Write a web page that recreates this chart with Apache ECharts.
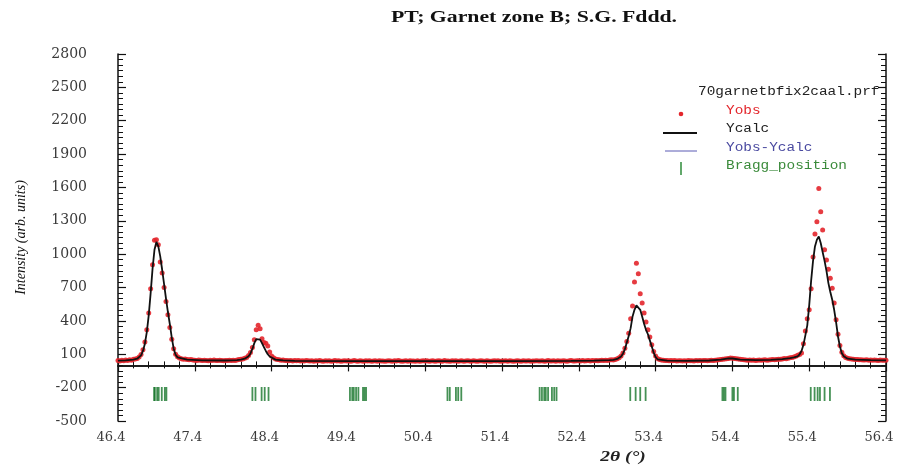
<!DOCTYPE html>
<html>
<head>
<meta charset="utf-8">
<script src="https://cdn.jsdelivr.net/npm/echarts@6/dist/echarts.min.js"></script>
<style>html,body{margin:0;padding:0;background:#fff}#c{width:899px;height:466px}</style>
</head>
<body>
<div id="c"></div>
<script>
// ---- data ----
const xTicks = [46.4, 47.4, 48.4, 49.4, 50.4, 51.4, 52.4, 53.4, 54.4, 55.4, 56.4];
const yTicks = [-500, -200, 100, 400, 700, 1000, 1300, 1600, 1900, 2200, 2500, 2800];

// observed intensities on the measurement grid (start 46.4, step 0.025 deg)
const obsStart = 46.4;
const obsStep = 0.025;
const obsIntensity = [
  44,40,46,42,48,45,50,47,55,58,62,75,98,140,210,320,470,690,905,1125,
  1130,1085,930,830,700,575,455,340,235,150,100,78,66,60,55,58,52,50,53,48,
  47,44,49,46,43,47,45,42,46,44,48,45,43,46,44,41,45,43,47,44,
  46,44,49,52,55,58,64,72,88,115,160,230,320,360,330,240,205,200,175,120,
  85,68,58,52,50,46,48,44,45,42,44,40,43,41,44,39,42,40,43,41,
  40,42,38,41,39,43,40,37,41,39,42,38,40,43,39,41,38,40,42,39,
  41,38,40,43,39,37,41,40,38,42,39,41,37,40,42,38,41,39,40,37,
  40,42,39,38,41,40,43,39,37,40,41,38,42,39,40,38,41,37,40,42,
  39,41,38,40,42,37,39,41,40,38,43,39,40,37,41,39,42,38,40,41,
  38,40,42,39,37,41,40,38,39,42,40,37,41,39,38,40,42,39,41,38,
  40,39,41,38,42,40,37,39,41,40,38,42,39,40,41,38,40,39,42,40,
  39,41,38,40,43,39,40,42,38,41,40,39,42,40,38,41,43,40,39,42,
  41,40,43,39,42,44,40,43,41,45,42,44,46,43,47,45,48,50,49,52,
  60,68,85,112,155,215,290,420,535,750,918,825,645,560,470,390,320,255,185,125,
  85,62,52,48,46,44,45,42,44,41,43,40,42,41,39,42,40,43,41,42,
  40,43,41,44,42,45,43,41,44,46,45,47,48,50,52,55,58,60,63,66,
  64,62,60,57,55,52,50,48,47,49,46,48,45,47,49,46,48,50,47,49,
  50,52,51,54,56,55,58,62,60,64,68,72,76,82,92,98,112,195,310,420,
  500,690,975,1182,1292,1590,1382,1217,1040,948,864,784,694,560,410,280,180,118,86,72,
  64,60,57,55,53,52,50,51,49,48,50,47,49,46,48,47,45,48,46,47,
  46
];

// calculated profile
const calcTheta = [
  46.40,46.50,46.60,46.65,46.70,46.725,46.75,46.775,46.80,46.825,46.85,46.875,46.90,46.925,46.95,46.975,
  47.00,47.025,47.05,47.075,47.10,47.125,47.15,47.175,47.20,47.30,47.50,47.80,47.95,
  48.00,48.05,48.10,48.125,48.15,48.175,48.20,48.225,48.25,48.275,48.30,48.325,48.35,48.375,48.40,48.45,48.55,48.70,
  49.50,50.50,51.50,52.30,52.60,52.80,52.85,52.90,52.95,52.975,53.00,53.025,53.05,53.075,53.10,53.125,53.15,53.175,
  53.20,53.225,53.25,53.275,53.30,53.325,53.35,53.375,53.40,53.425,53.45,53.55,53.80,
  54.10,54.25,54.35,54.40,54.50,54.70,54.90,55.05,55.15,55.20,55.25,55.275,55.30,55.325,55.35,55.375,
  55.40,55.425,55.45,55.475,55.50,55.525,55.55,55.575,55.60,55.625,55.65,55.675,55.70,55.725,55.75,55.775,
  55.80,55.825,55.85,55.875,55.90,56.00,56.20,56.40
];
const calcIntensity = [
  43,45,52,60,90,130,195,300,450,650,870,1040,1110,1070,980,860,
  730,600,480,370,250,150,95,72,62,52,45,44,48,
  52,60,82,108,148,200,236,245,232,200,165,130,100,80,65,52,45,41,
  39,39,39,40,43,48,50,58,80,105,145,205,265,335,440,500,540,552,
  500,440,375,320,280,225,170,115,75,55,47,43,41,
  44,52,63,62,51,47,50,56,65,72,82,100,130,185,270,360,
  540,760,940,1070,1130,1160,1100,1020,940,850,740,660,590,500,390,260,
  170,110,82,68,60,52,47,45
];

// Bragg reflection positions
const braggPositions = [
  46.87,46.88,46.91,46.93,46.97,47.01,47.03,
  48.15,48.19,48.27,48.31,48.36,
  49.42,49.45,49.47,49.50,49.53,49.59,49.61,49.63,
  50.69,50.72,50.80,50.83,50.87,
  51.89,51.92,51.95,51.97,52.00,52.05,52.08,52.11,
  53.07,53.14,53.20,53.27,
  54.27,54.29,54.31,54.40,54.42,54.47,
  55.42,55.47,55.51,55.54,55.60,55.67
];
const braggLevel = -257;

const titleText = 'PT; Garnet zone B; S.G. Fddd.';
const fileName = '70garnetbfix2caal.prf';
const legendNames = ['Yobs', 'Ycalc', 'Yobs-Ycalc', 'Bragg_position'];

// ---- build ----
const obsData = obsIntensity.map((v, i) => [obsStart + obsStep * i, v]);
const calcData = calcTheta.map((t, i) => [t, calcIntensity[i]]);
const braggData = braggPositions.map(t => [t, braggLevel]);

const serif = 'Liberation Serif';
const labelSerif = 'DejaVu Serif';
const mono = 'Liberation Mono';

const axisCommon = {
  axisLine: { show: true, lineStyle: { color: '#111', width: 1.5 } },
  splitLine: { show: false }
};

const chart = echarts.init(document.getElementById('c'), null, { renderer: 'canvas' });
chart.setOption({
  animation: false,
  backgroundColor: '#fff',
  grid: { left: 118, right: 13, top: 54, bottom: 45, containLabel: false },
  xAxis: [
    Object.assign({
      type: 'value', min: xTicks[0], max: xTicks[xTicks.length - 1], interval: 1,
      position: 'bottom',
      axisTick: { show: true, inside: true, length: 7, lineStyle: { color: '#111', width: 1.2 } },
      minorTick: { show: true, splitNumber: 5, length: 4, lineStyle: { color: '#111', width: 1 } },
      axisLabel: { show: true, margin: 10, color: '#3a3a3a', fontFamily: labelSerif, fontSize: 13,
        padding: [0, 14, 0, 0], formatter: v => v.toFixed(1) }
    }, axisCommon),
    Object.assign({
      type: 'value', min: xTicks[0], max: xTicks[xTicks.length - 1], interval: 1,
      position: 'top',
      axisTick: { show: true, inside: true, length: 6, lineStyle: { color: '#111', width: 1.2 } },
      minorTick: { show: true, splitNumber: 5, length: 3, lineStyle: { color: '#111', width: 1 } },
      axisLabel: { show: false }
    }, axisCommon)
  ],
  yAxis: [
    Object.assign({
      type: 'value', min: yTicks[0], max: yTicks[yTicks.length - 1], interval: 300,
      position: 'left',
      name: 'Intensity (arb. units)', nameLocation: 'middle', nameGap: 90,
      nameTextStyle: { fontFamily: serif, fontStyle: 'italic', fontSize: 14, color: '#111' },
      axisTick: { show: true, inside: true, length: 8, lineStyle: { color: '#111', width: 1.2 } },
      minorTick: { show: true, splitNumber: 6, length: 5, lineStyle: { color: '#111', width: 1 } },
      axisLabel: { show: true, margin: 31, color: '#3a3a3a', fontFamily: labelSerif, fontSize: 14,
        formatter: v => String(v) }
    }, axisCommon),
    Object.assign({
      type: 'value', min: yTicks[0], max: yTicks[yTicks.length - 1], interval: 300,
      position: 'right',
      axisTick: { show: true, inside: true, length: 8, lineStyle: { color: '#111', width: 1.2 } },
      minorTick: { show: true, splitNumber: 6, length: 5, lineStyle: { color: '#111', width: 1 } },
      axisLabel: { show: false }
    }, axisCommon)
  ],
  series: [
    {
      name: 'Yobs', type: 'scatter', data: obsData, symbol: 'circle', symbolSize: 5,
      itemStyle: { color: '#e3262c', opacity: 0.9 }, z: 2
    },
    {
      name: 'Ycalc', type: 'line', data: calcData, showSymbol: false, smooth: false,
      lineStyle: { color: '#111', width: 1.8 }, z: 3
    },
    {
      name: 'Bragg_position', type: 'scatter', data: braggData, symbol: 'rect', symbolSize: [1.8, 14],
      itemStyle: { color: '#17762a' }, z: 2
    }
  ],
  graphic: [
    { type: 'text', x: 534, y: 18, scaleX: 1.36, style: { text: titleText, fontFamily: serif, fontWeight: 'bold', fontSize: 16, fill: '#111', textAlign: 'center', textVerticalAlign: 'middle' } },
    { type: 'text', x: 623, y: 457, scaleX: 1.3, style: { text: '2θ (°)', fontFamily: serif, fontWeight: 'bold', fontStyle: 'italic', fontSize: 15, fill: '#222', textAlign: 'center', textVerticalAlign: 'middle' } },
    { type: 'text', x: 698, y: 92, scaleX: 1.2, style: { text: fileName, fontFamily: mono, fontSize: 12, fill: '#222', textVerticalAlign: 'middle' } },
    { type: 'circle', shape: { cx: 681, cy: 114, r: 2.3 }, style: { fill: '#e3262c' } },
    { type: 'text', x: 726, y: 111, scaleX: 1.2, style: { text: legendNames[0], fontFamily: mono, fontSize: 12, fill: '#e3262c', textVerticalAlign: 'middle' } },
    { type: 'line', shape: { x1: 663, y1: 133, x2: 697, y2: 133 }, style: { stroke: '#111', lineWidth: 2 } },
    { type: 'text', x: 726, y: 129, scaleX: 1.2, style: { text: legendNames[1], fontFamily: mono, fontSize: 12, fill: '#222', textVerticalAlign: 'middle' } },
    { type: 'line', shape: { x1: 665, y1: 151, x2: 697, y2: 151 }, style: { stroke: '#5a5ab4', lineWidth: 1 } },
    { type: 'text', x: 726, y: 148, scaleX: 1.2, style: { text: legendNames[2], fontFamily: mono, fontSize: 12, fill: '#4a4aa0', textVerticalAlign: 'middle' } },
    { type: 'line', shape: { x1: 681, y1: 162, x2: 681, y2: 175 }, style: { stroke: '#2e8b3a', lineWidth: 1.5 } },
    { type: 'text', x: 726, y: 166, scaleX: 1.2, style: { text: legendNames[3], fontFamily: mono, fontSize: 12, fill: '#3a8a3a', textVerticalAlign: 'middle' } }
  ]
});
</script>
</body>
</html>
